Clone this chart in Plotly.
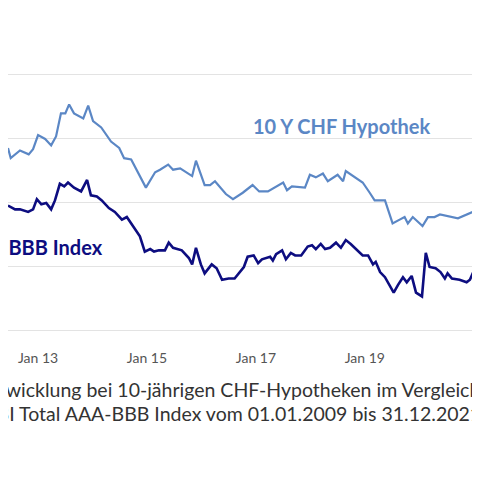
import pandas as pd
import plotly.graph_objects as go

hyp_t = [2012.45,2012.50,2012.67,2012.83,2012.91,2013.0,2013.13,2013.24,2013.33,2013.42,2013.50,2013.57,2013.66,2013.83,2013.92,2014.01,2014.16,2014.34,2014.49,2014.58,2014.71,2014.85,2014.98,2015.15,2015.24,2015.39,2015.48,2015.61,2015.83,2015.90,2016.06,2016.16,2016.25,2016.45,2016.58,2016.76,2016.94,2017.06,2017.22,2017.50,2017.57,2017.66,2017.90,2017.99,2018.10,2018.23,2018.32,2018.50,2018.60,2018.65,2018.96,2019.09,2019.18,2019.37,2019.51,2019.64,2019.73,2019.79,2019.88,2020.06,2020.16,2020.28,2020.38,2020.71,2020.98,2021.13,2021.26]
hyp_v = [2.43,2.35,2.41,2.38,2.42,2.53,2.50,2.45,2.52,2.70,2.70,2.77,2.70,2.66,2.76,2.64,2.59,2.48,2.43,2.35,2.34,2.23,2.12,2.24,2.26,2.30,2.26,2.27,2.21,2.33,2.14,2.14,2.17,2.07,2.03,2.08,2.14,2.09,2.09,2.16,2.10,2.13,2.12,2.22,2.20,2.23,2.17,2.22,2.17,2.25,2.16,2.08,2.02,2.02,1.84,1.87,1.89,1.84,1.89,1.82,1.89,1.89,1.91,1.88,1.93,1.99,1.99]

sbi_t = [2012.45,2012.58,2012.67,2012.82,2012.91,2012.98,2013.06,2013.15,2013.24,2013.31,2013.40,2013.48,2013.55,2013.66,2013.79,2013.90,2013.97,2014.08,2014.17,2014.30,2014.41,2014.54,2014.63,2014.72,2014.87,2014.96,2015.06,2015.13,2015.22,2015.33,2015.40,2015.48,2015.64,2015.77,2015.83,2015.90,2015.99,2016.06,2016.19,2016.28,2016.38,2016.50,2016.61,2016.78,2016.85,2016.96,2017.04,2017.11,2017.26,2017.31,2017.37,2017.48,2017.55,2017.64,2017.72,2017.83,2017.95,2018.03,2018.10,2018.19,2018.27,2018.36,2018.47,2018.56,2018.65,2018.74,2018.87,2018.96,2019.06,2019.15,2019.20,2019.28,2019.37,2019.53,2019.61,2019.70,2019.77,2019.86,2019.94,2020.05,2020.12,2020.19,2020.30,2020.39,2020.47,2020.52,2020.60,2020.74,2020.87,2020.93,2021.02,2021.09,2021.20]
sbi_v = [1.98,1.95,1.95,1.93,1.95,2.03,1.99,2.00,1.95,2.02,2.15,2.13,2.16,2.12,2.09,2.18,2.06,2.05,2.02,1.96,1.93,1.87,1.89,1.83,1.74,1.62,1.64,1.62,1.63,1.63,1.69,1.65,1.63,1.57,1.52,1.65,1.52,1.45,1.52,1.49,1.40,1.41,1.41,1.50,1.58,1.59,1.53,1.56,1.58,1.55,1.60,1.63,1.56,1.61,1.59,1.59,1.66,1.67,1.64,1.68,1.64,1.65,1.69,1.65,1.71,1.68,1.63,1.59,1.59,1.52,1.54,1.46,1.42,1.30,1.36,1.42,1.38,1.43,1.30,1.27,1.61,1.50,1.49,1.46,1.41,1.45,1.41,1.40,1.38,1.40,1.49,1.47,1.48]

x_range = [2012.45, 2021.26]
y_range = [0.867, 3.367]
grid_vals = [1.0, 1.5, 2.0, 2.5, 3.0]
tick_years = [2013, 2015, 2017, 2019, 2021]

def to_date(ts):
    out = []
    for t in ts:
        y = int(t)
        out.append(pd.Timestamp(year=y, month=1, day=1) + pd.Timedelta(days=(t - y) * 365.25))
    return out

fig = go.Figure()
fig.add_trace(go.Scatter(x=to_date(hyp_t), y=hyp_v, mode="lines",
                         line=dict(color="#5b87c5", width=2.2), showlegend=False, cliponaxis=False))
fig.add_trace(go.Scatter(x=to_date(sbi_t), y=sbi_v, mode="lines",
                         line=dict(color="#0d0d80", width=2.6), showlegend=False, cliponaxis=False))

fig.update_layout(
    width=480, height=480, margin=dict(l=0, r=0, t=20, b=140, autoexpand=False),
    paper_bgcolor="white", plot_bgcolor="white",
    font=dict(family="Lato, Open Sans, sans-serif", color="#333"),
    xaxis=dict(range=to_date(x_range), tickvals=to_date(tick_years), automargin=False,
               tickformat="%b %y", showgrid=False, zeroline=False, showline=False,
               ticks="", tickfont=dict(size=14, color="#555")),
    yaxis=dict(range=y_range, tickvals=grid_vals, showticklabels=False, automargin=False,
               gridcolor="#e3e3e3", gridwidth=1, zeroline=False, showline=False),
    annotations=[
        dict(text="<b>10 Y CHF Hypothek</b>", x=243/480, y=1-(118-20)/320, xref="paper", yref="paper",
             xanchor="left", yanchor="middle", showarrow=False, font=dict(size=20, color="#5b87c5")),
        dict(text="<b>SBI AAA-BBB Index</b>", x=97/480, y=1-(239-20)/320, xref="paper", yref="paper",
             xanchor="right", yanchor="middle", showarrow=False, font=dict(size=20, color="#0d0d80")),
        dict(text="Zinsentwicklung bei 10-jährigen CHF-Hypotheken im Vergleich zum",
             x=-68/480, y=-(381-340)/320, xref="paper", yref="paper",
             xanchor="left", yanchor="middle", showarrow=False, font=dict(size=19.5, color="#333")),
        dict(text="SBI Total AAA-BBB Index vom 01.01.2009 bis 31.12.2021",
             x=-24/480, y=-(405-340)/320, xref="paper", yref="paper",
             xanchor="left", yanchor="middle", showarrow=False, font=dict(size=19.5, color="#333")),
    ],
)
fig.write_html("out.html")
